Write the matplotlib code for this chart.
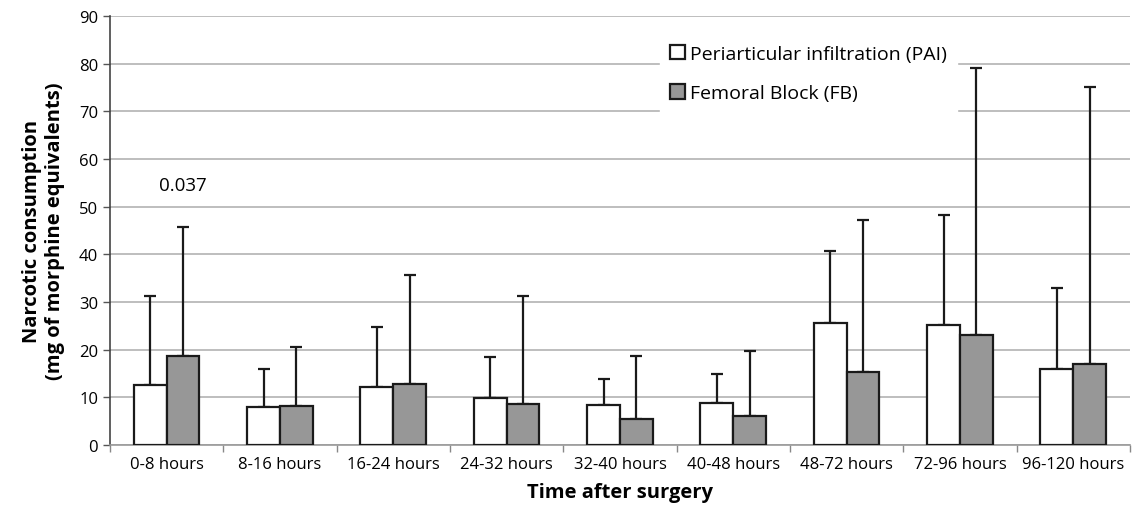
import matplotlib
matplotlib.use("Agg")
import matplotlib.pyplot as plt
import numpy as np

categories = ["0-8 hours", "8-16 hours", "16-24 hours", "24-32 hours", "32-40 hours",
              "40-48 hours", "48-72 hours", "72-96 hours", "96-120 hours"]
pai_mean = [12.6, 7.9, 12.2, 9.8, 8.4, 8.9, 25.6, 25.2, 15.9]
pai_top = [31.3, 15.9, 24.8, 18.5, 13.8, 14.9, 40.8, 48.3, 32.9]
fb_mean = [18.7, 8.1, 12.8, 8.7, 5.4, 6.1, 15.4, 23.1, 17.0]
fb_top = [45.7, 20.6, 35.7, 31.3, 18.6, 19.8, 47.3, 79.1, 75.0]
pai_sd = [t - m for t, m in zip(pai_top, pai_mean)]
fb_sd = [t - m for t, m in zip(fb_top, fb_mean)]
annotation_text = "0.037"
annotation_y = 54.5

plt.rcParams['font.family'] = ['Open Sans', 'DejaVu Sans']

fig = plt.figure(figsize=(11.37, 5.10), dpi=100)
ax = fig.add_axes([0.0967, 0.1255, 0.8971, 0.8412])

x = np.arange(len(categories))
w = 0.29
ax.bar(x - w/2, pai_mean, w, color="white", edgecolor="#1a1a1a", linewidth=1.6,
       label="Periarticular infiltration (PAI)", zorder=3)
ax.bar(x + w/2, fb_mean, w, color="#979797", edgecolor="#1a1a1a", linewidth=1.6,
       label="Femoral Block (FB)", zorder=3)
ax.errorbar(x - w/2, pai_mean, yerr=[np.zeros(len(x)), pai_sd], fmt="none",
            ecolor="#1a1a1a", elinewidth=1.6, capsize=4, capthick=1.6, zorder=2)
ax.errorbar(x + w/2, fb_mean, yerr=[np.zeros(len(x)), fb_sd], fmt="none",
            ecolor="#1a1a1a", elinewidth=1.6, capsize=4, capthick=1.6, zorder=2)

ax.text(0 + w/2, annotation_y, annotation_text, ha="center", va="center", fontsize=13.5)

ax.set_xlim(-0.5, len(categories) - 0.5)
ax.set_ylim(0, 90)
ax.set_yticks(np.arange(0, 91, 10))
ax.yaxis.grid(True, color="#b3b3b3", linewidth=1.2, zorder=0)
ax.set_axisbelow(True)

ax.set_xticks(x)
ax.set_xticklabels(categories, fontsize=12)
ax.set_xticks(np.arange(-0.5, len(categories), 1), minor=True)
ax.tick_params(axis="x", which="major", length=0, pad=8)
ax.tick_params(axis="x", which="minor", length=5, color="#888888", width=1)
ax.tick_params(axis="y", labelsize=12, length=5, color="#555555", width=1)

for s in ["top", "right"]:
    ax.spines[s].set_visible(False)
ax.spines["left"].set_color("#444444")
ax.spines["left"].set_linewidth(1.2)
ax.spines["bottom"].set_color("#999999")
ax.spines["bottom"].set_linewidth(1.2)

ax.set_xlabel("Time after surgery", fontsize=14.5, fontweight="bold", labelpad=7)
ax.set_ylabel("Narcotic consumption\n(mg of morphine equivalents)", fontsize=14.5,
              fontweight="bold", labelpad=10)

leg = ax.legend(loc="upper left", bbox_to_anchor=(0.530, 0.978), fontsize=14,
                frameon=True, fancybox=False, framealpha=1, edgecolor="white",
                facecolor="white", handlelength=0.75, handleheight=0.75,
                handletextpad=0.3, labelspacing=1.1, borderpad=0.5)
leg.set_zorder(5)

fig.savefig("out.png", dpi=100)
